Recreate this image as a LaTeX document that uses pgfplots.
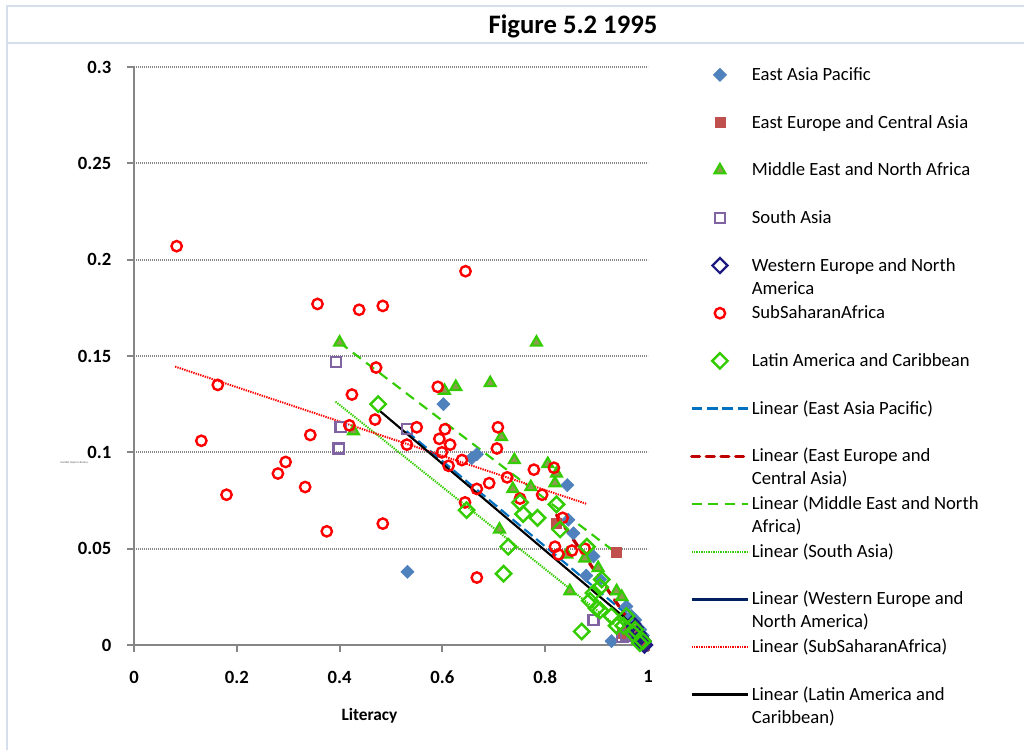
\documentclass[border=0pt]{standalone}
\usepackage{fontspec}
\setmainfont{Carlito}
\usepackage{pgfplots}
\pgfplotsset{compat=1.18}
\definecolor{eap}{RGB}{79,129,189}
\definecolor{eeca}{RGB}{192,80,77}
\definecolor{menaG}{RGB}{51,204,0}
\definecolor{menaF}{RGB}{140,155,80}
\definecolor{sa}{RGB}{128,100,162}
\definecolor{we}{RGB}{31,26,130}
\definecolor{lac}{RGB}{51,204,0}
\definecolor{tEAP}{RGB}{0,112,192}
\definecolor{tEE}{RGB}{192,0,0}
\definecolor{tWE}{RGB}{0,32,96}
\definecolor{gridc}{RGB}{134,134,134}
\definecolor{framec}{RGB}{214,222,236}
\pgfplotsset{
  mlegend/.style={legend image code/.code={\draw[mark repeat=2, mark phase=2, ##1] plot coordinates {(0pt,4.2pt) (21.25pt,4.2pt) (42.5pt,4.2pt)};}},
  llegend/.style={legend image code/.code={\draw[##1] (0pt,4.2pt) -- (42.5pt,4.2pt);}},
}
\newcommand{\legtxt}[1]{\parbox[t]{200pt}{#1}}
\begin{document}
\begin{tikzpicture}
\path[use as bounding box] (0,0) rectangle (768pt,562.5pt);
\draw[framec, line width=1.5pt] (4.9pt,0) -- (4.9pt,558pt) -- (768pt,558pt);
\draw[framec, line width=1.5pt] (4.9pt,530.25pt) -- (768pt,530.25pt);
\node[anchor=base, font=\bfseries\fontsize{20}{24}\selectfont] at (429.75pt,537pt) {Figure 5.2 1995};
\node[anchor=base, font=\bfseries\fontsize{13}{16}\selectfont] at (277.1pt,22pt) {Literacy};
\node[anchor=west, font=\fontsize{2.2}{2.6}\selectfont, text=black!70] at (42pt,215.25pt) {Gender Gap in Literacy};
\begin{axis}[
  at={(100.5pt,78.75pt)}, anchor=south west,
  scale only axis, width=385.5pt, height=433.5pt,
  xmin=0, xmax=1, ymin=0, ymax=0.3,
  clip=false,
  axis x line*=bottom, axis y line*=left,
  axis line style={gridc, line width=2pt},
  xtick={0,0.2,0.4,0.6,0.8,1}, xticklabels={0,0.2,0.4,0.6,0.8,1},
  ytick={0,0.05,0.1,0.15,0.2,0.25,0.3}, yticklabels={0,0.05,0.1,0.15,0.2,0.25,0.3},
  tick align=outside, major tick length=5.5pt,
  tick style={gridc, line width=1.5pt},
  ymajorgrids,
  major grid style={gridc, line width=1.4pt, dash pattern=on 0.8pt off 0.7pt},
  ticklabel style={font=\bfseries\fontsize{14}{16}\selectfont, black},
  yticklabel style={xshift=-8pt},
  xticklabel style={yshift=-10.3pt},
  legend style={at={(1.0817,1.009)}, anchor=north west, draw=none, fill=none,
    inner sep=0pt, outer sep=0pt, row sep=0pt, column sep=1.5pt,
    font=\fontsize{14}{17.25}\selectfont,
    cells={anchor=base west},
    nodes={inner sep=0pt, text height=14pt, text depth=21.75pt}},
]
% East Asia Pacific
\addplot[only marks, mark=square*, mark size=3.5pt, mark options={rotate=45, fill=eap, draw=eap, line width=0.4pt}, mlegend] coordinates {
(0.532,0.038) (0.602,0.125) (0.657,0.097) (0.667,0.099) (0.843,0.083) (0.845,0.065) (0.855,0.058)
(0.894,0.046) (0.88,0.036) (0.907,0.034) (0.929,0.002) (0.958,0.020) (0.968,0.015) (0.975,0.013)
(0.985,0.008) (0.99,0.005)};
\addlegendentry{\legtxt{East Asia Pacific}}
% East Europe and Central Asia
\addplot[only marks, mark=square*, mark size=3.8pt, mark options={fill=eeca, draw=eeca, line width=0.4pt}, mlegend] coordinates {
(0.822,0.063) (0.939,0.048) (0.95,0.006) (0.96,0.008) (0.97,0.005) (0.98,0.004) (0.988,0.001) (0.992,0.000)};
\addlegendentry{\legtxt{East Europe and Central Asia}}
% Middle East and North Africa
\addplot[only marks, mark=triangle*, mark size=4.7pt, mark options={fill=menaF, draw=menaG, line width=1.6pt}, mlegend] coordinates {
(0.400,0.157) (0.427,0.111) (0.604,0.132) (0.626,0.134) (0.693,0.136) (0.783,0.157) (0.715,0.108)
(0.740,0.096) (0.805,0.094) (0.822,0.089) (0.819,0.084) (0.737,0.081) (0.772,0.082) (0.711,0.060)
(0.842,0.047) (0.877,0.045) (0.903,0.040) (0.848,0.028) (0.939,0.028) (0.949,0.025) (0.975,0.010) (0.985,0.004)};
\addlegendentry{\legtxt{Middle East and North Africa}}
% South Asia
\addplot[only marks, mark=square, mark size=3.8pt, mark options={draw=sa, line width=1.7pt}, mlegend] coordinates {
(0.393,0.147) (0.402,0.113) (0.398,0.102) (0.531,0.112) (0.894,0.013) (0.950,0.004) (0.958,0.005)};
\addlegendentry{\legtxt{South Asia}}
% Western Europe and North America
\addplot[only marks, mark=square, mark size=4pt, mark options={rotate=45, draw=we, line width=1.7pt}, mlegend] coordinates {
(0.970,0.011) (0.975,0.009) (0.980,0.006) (0.985,0.004) (0.990,0.002) (0.990,0.001) (0.993,0.000)};
\addlegendentry{\legtxt{Western Europe and North\\America}}
% SubSaharan Africa
\addplot[only marks, mark=o, mark size=3.9pt, mark options={draw=red, line width=1.8pt}, mlegend] coordinates {
(0.083,0.207) (0.163,0.135) (0.131,0.106) (0.180,0.078) (0.280,0.089) (0.295,0.095) (0.333,0.082)
(0.343,0.109) (0.357,0.177) (0.375,0.059) (0.438,0.174) (0.484,0.176) (0.471,0.144) (0.424,0.130)
(0.469,0.117) (0.419,0.114) (0.484,0.063) (0.531,0.104) (0.550,0.113) (0.591,0.134) (0.645,0.194)
(0.605,0.112) (0.594,0.107) (0.615,0.104) (0.599,0.100) (0.612,0.093) (0.638,0.096) (0.708,0.113)
(0.706,0.102) (0.778,0.091) (0.817,0.092) (0.726,0.087) (0.691,0.084) (0.667,0.081) (0.794,0.078)
(0.751,0.076) (0.644,0.074) (0.834,0.066) (0.819,0.051) (0.826,0.047) (0.852,0.049) (0.877,0.050)
(0.667,0.035)};
\addlegendentry{\legtxt{SubSaharanAfrica}}
% Latin America and Caribbean
\addplot[only marks, mark=square, mark size=4.1pt, mark options={rotate=45, draw=lac, line width=1.8pt}, mlegend] coordinates {
(0.475,0.125) (0.647,0.070) (0.751,0.074) (0.757,0.068) (0.785,0.066) (0.822,0.073) (0.829,0.060)
(0.728,0.051) (0.719,0.037) (0.881,0.051) (0.910,0.034) (0.887,0.023) (0.894,0.027) (0.907,0.030)
(0.900,0.019) (0.871,0.007) (0.907,0.018) (0.929,0.015) (0.939,0.010) (0.952,0.010) (0.958,0.015)
(0.971,0.006) (0.975,0.008) (0.984,0.001) (0.990,0.002)};
\addlegendentry{\legtxt{Latin America and Caribbean}}
% trend lines
\addplot[tEAP, line width=1.6pt, dash pattern=on 8pt off 3.5pt, llegend] coordinates {(0.530,0.111) (0.990,0.009)};
\addlegendentry{\legtxt{Linear (East Asia Pacific)}}
\addplot[tEE, line width=2.4pt, line cap=round, dash pattern=on 6pt off 5pt, llegend] coordinates {(0.822,0.0675) (0.990,0.002)};
\addlegendentry{\legtxt{Linear (East Europe and\\Central Asia)}}
\addplot[menaG, line width=1.6pt, dash pattern=on 7.5pt off 5pt, llegend] coordinates {(0.400,0.157) (0.947,0.046)};
\addlegendentry{\legtxt{Linear (Middle East and North\\Africa)}}
\addplot[menaG, line width=1.5pt, dash pattern=on 1pt off 0.8pt, llegend] coordinates {(0.392,0.1263) (0.960,0.0053)};
\addlegendentry{\legtxt{Linear (South Asia)}}
\addplot[tWE, line width=2.4pt, llegend] coordinates {(0.960,0.012) (0.993,0.001)};
\addlegendentry{\legtxt{Linear (Western Europe and\\North America)}}
\addplot[red, line width=1.5pt, dash pattern=on 1pt off 0.8pt, llegend] coordinates {(0.080,0.1445) (0.881,0.0732)};
\addlegendentry{\legtxt{Linear (SubSaharanAfrica)}}
\addplot[black, line width=1.6pt, llegend] coordinates {(0.476,0.122) (0.991,0.006)};
\addlegendentry{\legtxt{Linear (Latin America and\\Caribbean)}}
\end{axis}
\end{tikzpicture}
\end{document}
